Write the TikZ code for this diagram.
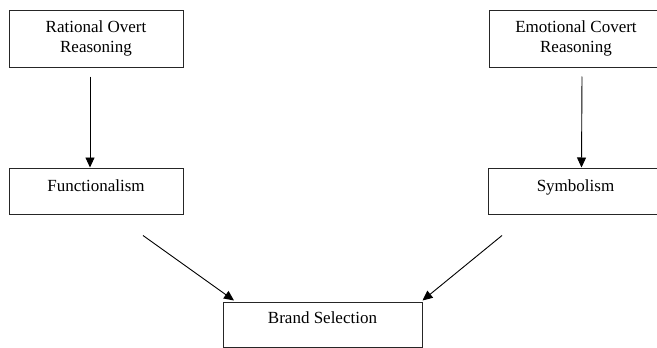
\documentclass[tikz,border=0pt]{standalone}
\usepackage{fontspec}
\setmainfont{Liberation Serif}
\usetikzlibrary{arrows.meta}
\begin{document}
\begin{tikzpicture}[x=1pt,y=-1pt,
  box/.style={draw=black!85,line width=1pt,inner sep=0pt,font=\fontsize{17}{20.5}\selectfont},
  arr/.style={draw=black,line width=0.9pt,-{Triangle[length=10pt,width=9pt]}}]
\useasboundingbox (0,0) rectangle (657,348);
\begin{scope}
\clip (0,0) rectangle (657,348);
\node[box,minimum width=174pt,minimum height=57pt] (rat) at (96,38.5)
  {\raisebox{6.5pt}[0pt][0pt]{\begin{tabular}[t]{@{}c@{}}Rational Overt\\Reasoning\end{tabular}}};
\node[box,minimum width=174pt,minimum height=57pt] (emo) at (576,38.5)
  {\raisebox{6.5pt}[0pt][0pt]{\begin{tabular}[t]{@{}c@{}}Emotional Covert\\Reasoning\end{tabular}}};
\node[box,minimum width=174pt,minimum height=46pt] (func) at (96,191)
  {\raisebox{0pt}[0pt][0pt]{Functionalism}};
\node[box,minimum width=175pt,minimum height=46pt] (sym) at (575.5,191)
  {\raisebox{0pt}[0pt][0pt]{Symbolism}};
\node[box,minimum width=199pt,minimum height=45pt] (brand) at (322.5,324.5)
  {\raisebox{1.5pt}[0pt][0pt]{Brand Selection}};
\end{scope}
\draw[arr] ([xshift=-6pt,yshift=-9pt]rat.south) -- ([xshift=-6pt]func.north);
\draw[arr] ([xshift=6pt,yshift=-9pt]emo.south) -- ([xshift=6pt]sym.north);
\draw[arr] ([xshift=47pt,yshift=-21pt]func.south) -- ([xshift=-88.5pt,yshift=1pt]brand.north);
\draw[arr] ([xshift=-73.5pt,yshift=-21pt]sym.south) -- ([yshift=1pt]brand.north east);
\end{tikzpicture}
\end{document}
